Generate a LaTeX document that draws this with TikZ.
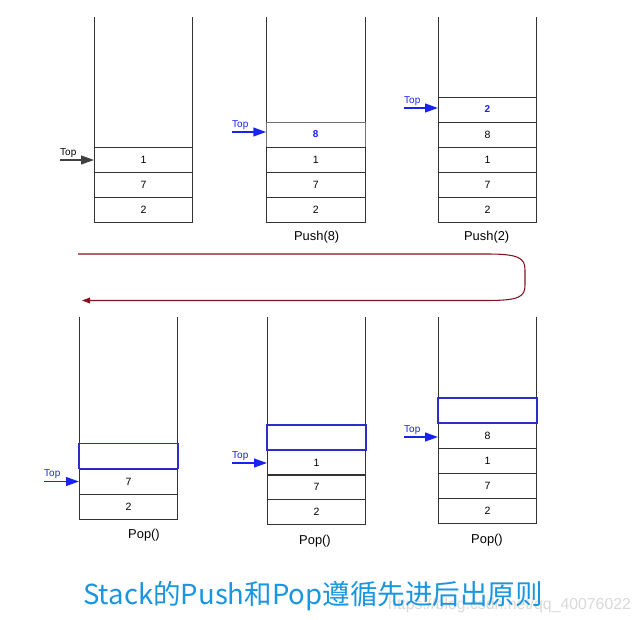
\documentclass[tikz,border=0pt]{standalone}
\usepackage{fontspec}
\setmainfont{Liberation Sans}
\newfontfamily\cjk{Noto Sans CJK SC}
\usetikzlibrary{positioning,arrows.meta}
\definecolor{topblue}{RGB}{25,35,240}
\definecolor{boxblue}{RGB}{45,45,200}
\definecolor{loopred}{RGB}{130,20,30}
\definecolor{ttlblue}{RGB}{25,150,225}
\tikzset{
  cell/.style    = {draw=black!80, line width=0.6pt, minimum width=2.95cm,
                    minimum height=0.75cm, inner sep=0pt,
                    font=\fontsize{9}{9}\selectfont},
  ecell/.style   = {cell, draw=boxblue, line width=1.5pt},
  ncell/.style   = {cell, text=topblue, font=\fontsize{8.5}{9}\selectfont\bfseries},
  wall/.style    = {line width=0.6pt, black!80},
  bptr/.style    = {line width=1.3pt, black!75, -{Triangle[length=11pt,width=7.5pt]}},
  uptr/.style    = {line width=1.3pt, topblue, -{Triangle[length=11pt,width=7.5pt]}},
  tlbl/.style    = {font=\fontsize{8.5}{9}\selectfont, inner sep=0pt, anchor=base west},
  oplbl/.style   = {font=\fontsize{11}{11}\selectfont, inner sep=1pt},
  loopw/.style   = {line width=0.9pt, loopred, -{Triangle[length=7pt,width=5pt]}},
}
\begin{document}
\begin{tikzpicture}[x=0.03cm,y=-0.03cm]
  \useasboundingbox[fill=white] (0,0) rectangle (638,620);
  \coordinate (hi) at (0,17);
  \coordinate (lo) at (0,317);
  % push: stack 1
  \draw[wall] (94.3,222) coordinate (b1) -- (b1 |- hi);
  \draw[wall] (192.7,222) coordinate (b1r) -- (b1r |- hi);
  \node[cell] (c11) at (143.5,159.5) {1};
  \node[cell] (c12) at (143.5,184.5) {7};
  \node[cell] (c13) at (143.5,209.5) {2};
  \coordinate (p1) at (60,160);
  \node[tlbl] (t1) at (60,155.5) {Top};
  \draw[bptr] (p1) -- (p1 -| c11.west);
  % push: stack 2
  \draw[wall] (266.5,222) coordinate (b2) -- (b2 |- hi);
  \draw[wall] (364.9,222) coordinate (b2r) -- (b2r |- hi);
  \node[ncell, draw=black!55] (c21) at (315.7,134.5) {8};
  \node[cell] (c22) at (315.7,159.5) {1};
  \node[cell] (c23) at (315.7,184.5) {7};
  \node[cell] (c24) at (315.7,209.5) {2};
  \coordinate (p2) at (232,132);
  \node[tlbl, text=topblue] (t2) at (232,127.5) {Top};
  \draw[uptr] (p2) -- (p2 -| c21.west);
  \node[oplbl] (o2) at (316.7,237) {Push(8)};
  % push: stack 3
  \draw[wall] (438.3,222) coordinate (b3) -- (b3 |- hi);
  \draw[wall] (536.7,222) coordinate (b3r) -- (b3r |- hi);
  \node[ncell] (c31) at (487.5,109.5) {2};
  \node[cell] (c32) at (487.5,134.5) {8};
  \node[cell] (c33) at (487.5,159.5) {1};
  \node[cell] (c34) at (487.5,184.5) {7};
  \node[cell] (c35) at (487.5,209.5) {2};
  \coordinate (p3) at (404,108);
  \node[tlbl, text=topblue] (t3) at (404,103.5) {Top};
  \draw[uptr] (p3) -- (p3 -| c31.west);
  \node[oplbl] (o3) at (486.7,237) {Push(2)};
  % turn round
  \coordinate (la) at (78,254);
  \coordinate (lb) at (487,254);
  \coordinate (lc) at (487,300.5);
  \coordinate (ld) at (82,300.5);
  \draw[loopw] (la) -- (lb) .. controls +(32,0) and +(0,-12) .. (525,270)
    -- (525,285) .. controls +(0,12) and +(32,0) .. (lc) -- (ld);
  % pop: stack 4
  \draw[wall] (79.3,519) coordinate (b4) -- (b4 |- lo);
  \draw[wall] (177.7,519) coordinate (b4r) -- (b4r |- lo);
  \node[cell] (c42) at (128.5,481.5) {7};
  \node[cell] (c43) at (128.5,506.5) {2};
  \node[ecell] (c41) at (128.5,456) {};
  \coordinate (p4) at (44,481.5);
  \node[tlbl, text=topblue] (t4) at (44,476.5) {Top};
  \draw[uptr] (p4) -- (p4 -| c42.west);
  \node[oplbl] (o4) at (144,535) {Pop()};
  % pop: stack 5
  \draw[wall] (267.3,524) coordinate (b5) -- (b5 |- lo);
  \draw[wall] (365.7,524) coordinate (b5r) -- (b5r |- lo);
  \node[cell] (c52) at (316.5,462.5) {1};
  \node[cell] (c53) at (316.5,487) {7};
  \node[cell] (c54) at (316.5,511.5) {2};
  \node[ecell] (c51) at (316.5,437.5) {};
  \coordinate (p5) at (232,463);
  \node[tlbl, text=topblue] (t5) at (232,458.5) {Top};
  \draw[uptr] (p5) -- (p5 -| c52.west);
  \node[oplbl] (o5) at (315,541) {Pop()};
  % pop: stack 6
  \draw[wall] (438.3,523) coordinate (b6) -- (b6 |- lo);
  \draw[wall] (536.7,523) coordinate (b6r) -- (b6r |- lo);
  \node[cell] (c62) at (487.5,435.5) {8};
  \node[cell] (c63) at (487.5,460.5) {1};
  \node[cell] (c64) at (487.5,485.5) {7};
  \node[cell] (c65) at (487.5,510.5) {2};
  \node[ecell] (c61) at (487.5,410.5) {};
  \coordinate (p6) at (404,437);
  \node[tlbl, text=topblue] (t6) at (404,432.5) {Top};
  \draw[uptr] (p6) -- (p6 -| c62.west);
  \node[oplbl] (o6) at (487,540) {Pop()};
  % caption
  \node[font=\fontsize{13.5}{14}\selectfont, text=black!15, inner sep=0pt,
        anchor=base west] (wm) at (388,609) {https://blog.csdn.net/qq\_40076022};
  \node[font=\cjk\fontsize{23.5}{24}\selectfont, text=ttlblue, inner sep=0pt,
        anchor=base west] (ttl) at (83,604) {Stack的Push和Pop遵循先进后出原则};
\end{tikzpicture}
\end{document}
